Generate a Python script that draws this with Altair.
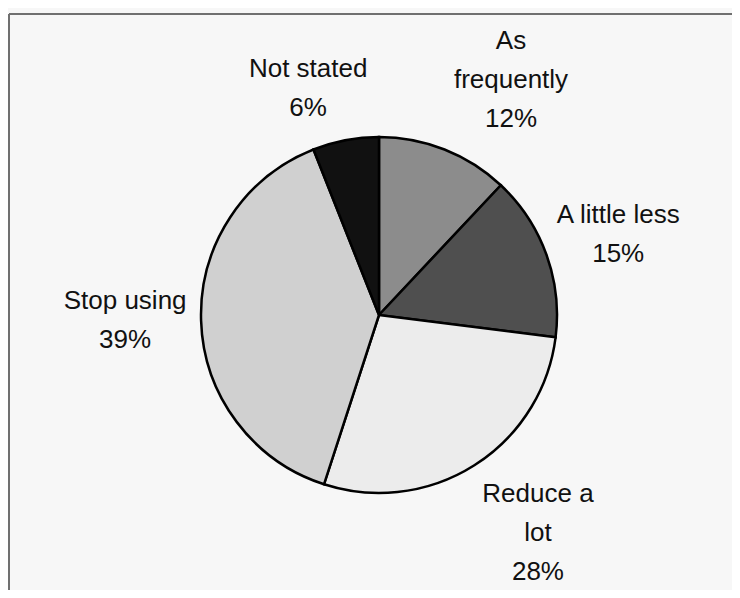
import altair as alt
import pandas as pd

categories = ["As frequently", "A little less", "Reduce a lot", "Stop using", "Not stated"]
percents = [12, 15, 28, 39, 6]
label_lines = [["As", "frequently"], ["A little less"], ["Reduce a", "lot"], ["Stop using"], ["Not stated"]]
colors = ["#8c8c8c", "#4f4f4f", "#ececec", "#d0d0d0", "#111111"]

# label nudges (pixels) around the mid-angle anchor
nudges = {
    "As frequently": (40, -42),
    "A little less": (4, -15),
    "Reduce a lot": (25, -32),
    "Stop using": (-4, -22),
    "Not stated": (-24, 0),
}

df = pd.DataFrame({
    "category": categories,
    "pct": percents,
    "order": list(range(len(categories))),
    "label": ["\n".join(l + [f"{p}%"]) for l, p in zip(label_lines, percents)],
})

theta_scale = alt.Scale(domain=[0, 100])

pie = alt.Chart(df).mark_arc(outerRadius=178, stroke="black", strokeWidth=2.5).encode(
    theta=alt.Theta("pct:Q", stack=True, scale=theta_scale),
    color=alt.Color("category:N", scale=alt.Scale(domain=categories, range=colors), legend=None),
    order=alt.Order("order:Q"),
)

texts = []
for c in categories:
    dx, dy = nudges[c]
    t = alt.Chart(df).transform_window(
        cum="sum(pct)", sort=[alt.SortField("order")], frame=[None, 0]
    ).transform_calculate(
        mid="datum.cum - datum.pct / 2"
    ).transform_filter(
        alt.datum.category == c
    ).mark_text(
        radius=250, dx=dx, dy=dy, fontSize=26, lineHeight=39, lineBreak="\n",
        font="Liberation Sans", color="#111111", align="center", baseline="middle"
    ).encode(
        theta=alt.Theta("mid:Q", stack=False, scale=theta_scale),
        text="label:N",
    )
    texts.append(t)

one = pd.DataFrame({"a": [0]})
frame_top = alt.Chart(one).mark_rule(color="#707070", strokeWidth=2).encode(
    x=alt.value(-20), x2=alt.value(720), y=alt.value(-26)
)
frame_left = alt.Chart(one).mark_rule(color="#707070", strokeWidth=2).encode(
    x=alt.value(-20), y=alt.value(-26), y2=alt.value(560)
)

chart = alt.layer(frame_top, frame_left, pie, *texts).properties(
    width=700,
    height=550,
    padding={"left": 21, "top": 32, "right": 3, "bottom": 0},
    autosize=alt.AutoSizeParams(type="none"),
    background="#f7f7f7",
).configure_view(stroke="transparent")

chart.save("out.html", embed_options={"renderer": "svg", "actions": False})
